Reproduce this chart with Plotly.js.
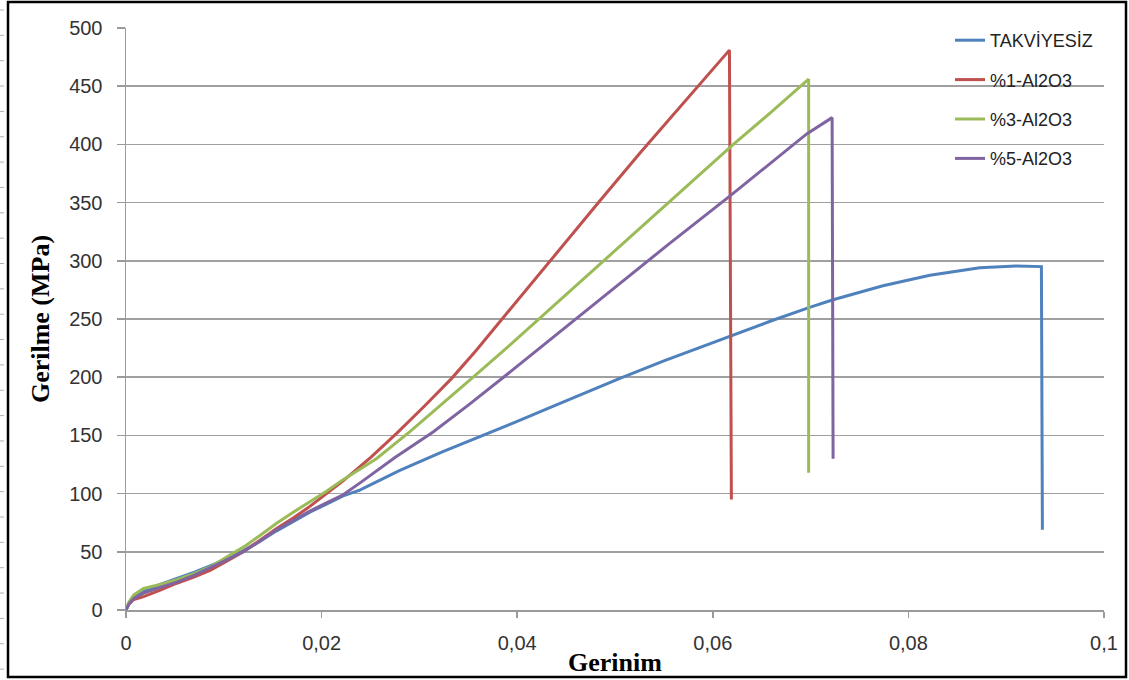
<!DOCTYPE html>
<html>
<head>
<meta charset="utf-8">
<script src="https://cdn.plot.ly/plotly-3.0.1.min.js"></script>
<style>
  html, body { margin: 0; padding: 0; background: #ffffff; }
  #chart { width: 1129px; height: 680px; }
</style>
</head>
<body>
<div id="chart"></div>
<script>
// Stress–strain curves (Gerinim vs Gerilme, MPa) for the unreinforced and Al2O3-reinforced samples
const seriesNames = ['TAKVİYESİZ', '%1-Al2O3', '%3-Al2O3', '%5-Al2O3'];
const seriesColors = ['#4F81BD', '#C0504D', '#9BBB59', '#8064A2'];

const strainPlain = [0, 0.0003, 0.0008, 0.0018, 0.0035, 0.0052, 0.007, 0.0086, 0.0103, 0.012, 0.0137, 0.0154, 0.0171, 0.0188, 0.0205, 0.0222, 0.0239, 0.028, 0.0324, 0.0369, 0.040, 0.0434, 0.0468, 0.0505, 0.055, 0.0618, 0.066, 0.0699, 0.0723, 0.0774, 0.0822, 0.0873, 0.091, 0.0936, 0.0937];
const stressPlain = [0, 6, 11, 16, 22, 27, 32.5, 38, 44, 51, 59, 68, 76, 84, 91, 98, 103, 120, 136, 151, 162, 174, 186, 199, 214, 235.5, 248.5, 260, 266.5, 278.5, 287.5, 294, 295.5, 295, 69];

const strainAl1 = [0, 0.0003, 0.0008, 0.0018, 0.0035, 0.0052, 0.007, 0.0086, 0.0103, 0.012, 0.0137, 0.0154, 0.0171, 0.0188, 0.0205, 0.0222, 0.025, 0.0277, 0.0305, 0.0333, 0.0358, 0.0382, 0.041, 0.044, 0.0485, 0.0526, 0.0558, 0.0587, 0.0617, 0.0619];
const stressAl1 = [0, 5, 9, 11.5, 17, 23, 28.5, 34, 42, 50, 60, 70, 79, 89, 100, 111, 131, 152, 175, 199, 223, 247.5, 276, 307, 352, 393, 424, 452, 481, 95];

const strainAl3 = [0, 0.0003, 0.0008, 0.0018, 0.0035, 0.0052, 0.007, 0.0086, 0.0103, 0.012, 0.0137, 0.0154, 0.0171, 0.0188, 0.0205, 0.0222, 0.0256, 0.029, 0.0322, 0.0355, 0.0389, 0.0423, 0.0454, 0.0485, 0.052, 0.0553, 0.0587, 0.0621, 0.066, 0.0698, 0.0698];
const stressAl3 = [0, 7, 13, 18.5, 22, 26, 31.5, 37, 45.5, 54, 64, 74.5, 84, 93, 102, 112, 130, 153, 176, 200, 225, 250.6, 274, 298, 324, 349, 374, 400, 428, 456, 118];

const strainAl5 = [0, 0.0003, 0.0008, 0.0018, 0.0035, 0.0052, 0.007, 0.0086, 0.0103, 0.012, 0.0137, 0.0154, 0.0171, 0.0188, 0.0205, 0.0222, 0.0239, 0.0275, 0.0314, 0.035, 0.0386, 0.042, 0.0455, 0.0495, 0.0553, 0.0618, 0.0665, 0.0696, 0.0722, 0.0723];
const stressAl5 = [0, 5, 10, 14.5, 19.5, 24, 30, 36, 43, 50, 59, 69, 77, 85, 92, 99, 109, 131, 153, 176, 200, 223, 247, 274, 313, 356, 388, 409, 423, 130];

const xTickValues = [0, 0.02, 0.04, 0.06, 0.08, 0.1];
const yTickValues = [0, 50, 100, 150, 200, 250, 300, 350, 400, 450, 500];

const strains = [strainPlain, strainAl1, strainAl3, strainAl5];
const stresses = [stressPlain, stressAl1, stressAl3, stressAl5];

const traces = seriesNames.map((name, i) => ({
  type: 'scatter',
  mode: 'lines',
  name: name,
  legendgroup: 'g' + i,
  x: strains[i],
  y: stresses[i],
  line: { color: seriesColors[i], width: 3 }
}));

// plot-area geometry in pixels, used to place the frame around the figure
const W = 1129, H = 680;
const M = { l: 126, r: 25, t: 28, b: 70 };
const pw = W - M.l - M.r, ph = H - M.t - M.b;
const px2x = p => (p - M.l) / pw;
const py2y = p => (H - M.b - p) / ph;

const shapes = [{
  type: 'rect', xref: 'paper', yref: 'paper',
  x0: px2x(8), x1: px2x(1126), y0: py2y(677), y1: py2y(2),
  line: { color: '#000000', width: 2.5 }, fillcolor: 'rgba(0,0,0,0)', layer: 'above'
}];
// small ruler marks along the left page edge
for (let p = 10; p < H; p += 25.35) {
  shapes.push({
    type: 'line', xref: 'paper', yref: 'paper',
    x0: px2x(0), x1: px2x(4), y0: py2y(p), y1: py2y(p),
    line: { color: '#b0b0b0', width: 1 }
  });
}

const tickFont = { family: 'Liberation Sans, Arial, sans-serif', size: 20, color: '#333333' };
const titleFont = { family: 'Liberation Serif, Times New Roman, serif', size: 26, color: '#000000', weight: 'bold' };

const layout = {
  width: W, height: H,
  margin: M,
  separators: ', ',
  paper_bgcolor: '#ffffff',
  plot_bgcolor: '#ffffff',
  showlegend: true,
  legend: {
    x: px2x(950), xanchor: 'left',
    y: py2y(22), yanchor: 'top',
    bgcolor: 'rgba(0,0,0,0)',
    borderwidth: 0,
    tracegroupgap: 13,
    font: { family: 'Liberation Sans, Arial, sans-serif', size: 18, color: '#222222' }
  },
  xaxis: {
    range: [0, 0.1],
    tickvals: xTickValues,
    ticks: 'outside', ticklen: 6, tickwidth: 1.5, tickcolor: '#9a9a9a',
    ticklabelstandoff: 8,
    showgrid: false, zeroline: false,
    showline: true, linecolor: '#9a9a9a', linewidth: 1.5,
    tickfont: tickFont,
    title: { text: 'Gerinim', font: titleFont, standoff: 0 },
    automargin: false
  },
  yaxis: {
    range: [0, 500],
    tickvals: yTickValues,
    ticks: 'outside', ticklen: 8, tickwidth: 1.5, tickcolor: '#9a9a9a',
    ticklabelstandoff: 10,
    showgrid: true, gridcolor: '#a0a0a0', gridwidth: 1.5,
    zeroline: false,
    showline: true, linecolor: '#9a9a9a', linewidth: 1.5,
    tickfont: tickFont,
    title: { text: 'Gerilme (MPa)', font: titleFont, standoff: 12 },
    automargin: false
  },
  shapes: shapes
};

Plotly.newPlot('chart', traces, layout, { displayModeBar: false, staticPlot: true });
</script>
</body>
</html>
